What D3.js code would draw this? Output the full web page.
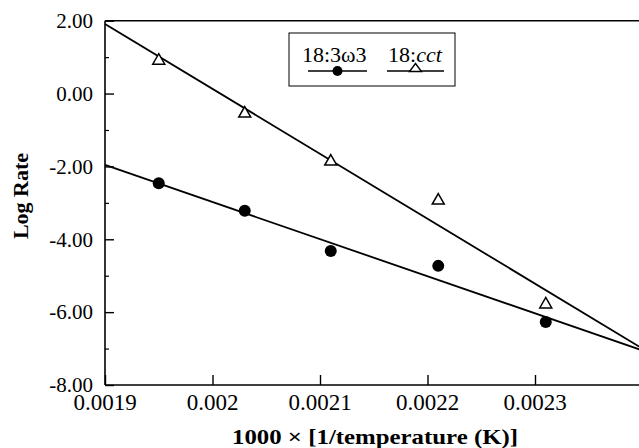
<!DOCTYPE html>
<html>
<head>
<meta charset="utf-8">
<script src="https://cdn.jsdelivr.net/npm/d3@7"></script>
<style>
  html, body { margin: 0; padding: 0; background: #fff; }
  svg { display: block; }
</style>
</head>
<body>
<div id="chart"></div>
<script>
// inverse temperature values (x) and log rates
const invTemp = [0.00195, 0.00203, 0.00211, 0.00221, 0.00231];
const rateOmega3 = [-2.46, -3.22, -4.32, -4.73, -6.27];
const rateCct = [0.95, -0.50, -1.82, -2.89, -5.74];

// fitted lines, given as [x, y] end points
const fitOmega3 = [[0.0019, -1.96], [0.0024, -7.05]];
const fitCct = [[0.0019, 1.91], [0.0024, -7.0]];

const xTicks = [0.0019, 0.002, 0.0021, 0.0022, 0.0023];
const xTickLabels = ['0.0019', '0.002', '0.0021', '0.0022', '0.0023'];
const yTicks = [2, 0, -2, -4, -6, -8];
const yTickLabels = ['2.00', '0.00', '-2.00', '-4.00', '-6.00', '-8.00'];
const yMinorTicks = [1, -1, -3, -5, -7];

const W = 639, H = 448;
const margin = { left: 105, top: 20.7, right: -3.5, bottom: 63 };
const serif = "'Liberation Serif', 'Times New Roman', serif";

const svg = d3.select('#chart').append('svg')
  .attr('width', W)
  .attr('height', H);

const x = d3.scaleLinear()
  .domain([0.0019, 0.0024])
  .range([margin.left, W - margin.right]);
const y = d3.scaleLinear()
  .domain([-8, 2])
  .range([H - margin.bottom, margin.top]);

// frame: left, bottom, top
const frame = svg.append('g')
  .attr('stroke', '#000')
  .attr('stroke-width', 1.6)
  .attr('fill', 'none');
frame.append('line')
  .attr('x1', x(0.0019)).attr('x2', x(0.0019))
  .attr('y1', y(2)).attr('y2', y(-8));
frame.append('line')
  .attr('x1', x(0.0019)).attr('x2', x(0.0024))
  .attr('y1', y(-8)).attr('y2', y(-8));
frame.append('line')
  .attr('x1', x(0.0019)).attr('x2', x(0.0024))
  .attr('y1', y(2)).attr('y2', y(2));

// y axis (ticks point inward)
svg.append('g')
  .attr('transform', `translate(${x(0.0019)},0)`)
  .call(d3.axisRight(y).tickValues(yTicks).tickSize(9).tickFormat(''))
  .call(g => g.select('.domain').remove())
  .call(g => g.selectAll('line').attr('stroke-width', 1.4));

svg.append('g')
  .attr('transform', `translate(${x(0.0019)},0)`)
  .call(d3.axisRight(y).tickValues(yMinorTicks).tickSize(4).tickFormat(''))
  .call(g => g.select('.domain').remove())
  .call(g => g.selectAll('line').attr('stroke-width', 1.2));

svg.append('g')
  .selectAll('text')
  .data(yTicks)
  .join('text')
  .attr('x', 93)
  .attr('y', d => y(d))
  .attr('dy', '0.35em')
  .attr('text-anchor', 'end')
  .attr('font-family', serif)
  .attr('font-size', 21)
  .text((d, i) => yTickLabels[i]);

// x axis (ticks point inward)
svg.append('g')
  .attr('transform', `translate(0,${y(-8)})`)
  .call(d3.axisTop(x).tickValues(xTicks).tickSize(10).tickFormat(''))
  .call(g => g.select('.domain').remove())
  .call(g => g.selectAll('line').attr('stroke-width', 1.4));

svg.append('g')
  .selectAll('text')
  .data(xTicks)
  .join('text')
  .attr('x', d => x(d))
  .attr('y', y(-8) + 17)
  .attr('dy', '0.35em')
  .attr('text-anchor', 'middle')
  .attr('font-family', serif)
  .attr('font-size', 23)
  .text((d, i) => xTickLabels[i]);

// axis titles
svg.append('text')
  .attr('x', 375)
  .attr('y', 444)
  .attr('text-anchor', 'middle')
  .attr('font-family', serif)
  .attr('font-weight', 'bold')
  .attr('font-size', 22)
  .attr('textLength', 286)
  .attr('lengthAdjust', 'spacingAndGlyphs')
  .text('1000 \u00d7 [1/temperature (K)]');

svg.append('text')
  .attr('transform', 'translate(28,196) rotate(-90)')
  .attr('text-anchor', 'middle')
  .attr('font-family', serif)
  .attr('font-weight', 'bold')
  .attr('font-size', 22)
  .text('Log Rate');

// fitted lines
const line = d3.line().x(d => x(d[0])).y(d => y(d[1]));
svg.append('g')
  .selectAll('path')
  .data([fitCct, fitOmega3])
  .join('path')
  .attr('d', line)
  .attr('fill', 'none')
  .attr('stroke', '#000')
  .attr('stroke-width', 1.8);

// markers
const triangle = (cx, cy, w, h) =>
  `M${cx},${cy - h / 2}L${cx + w / 2},${cy + h / 2}L${cx - w / 2},${cy + h / 2}Z`;

svg.append('g')
  .selectAll('circle')
  .data(invTemp)
  .join('circle')
  .attr('cx', d => x(d))
  .attr('cy', (d, i) => y(rateOmega3[i]))
  .attr('r', 6)
  .attr('fill', '#000');

svg.append('g')
  .selectAll('path')
  .data(invTemp)
  .join('path')
  .attr('d', (d, i) => triangle(x(d), y(rateCct[i]), 12, 10.5))
  .attr('fill', '#fff')
  .attr('stroke', '#000')
  .attr('stroke-width', 1.5);

// legend
const legend = svg.append('g');
legend.append('rect')
  .attr('x', 289).attr('y', 33)
  .attr('width', 166).attr('height', 53)
  .attr('fill', '#fff')
  .attr('stroke', '#000')
  .attr('stroke-width', 1);

legend.append('text')
  .attr('x', 302).attr('y', 62)
  .attr('font-family', serif)
  .attr('font-size', 22)
  .text('18:3\u03c93');

const cctLabel = legend.append('text')
  .attr('x', 388).attr('y', 62)
  .attr('font-family', serif)
  .attr('font-size', 22);
cctLabel.append('tspan').text('18:');
cctLabel.append('tspan').attr('font-style', 'italic').text('cct');

legend.append('line')
  .attr('x1', 308).attr('x2', 367).attr('y1', 71).attr('y2', 71)
  .attr('stroke', '#000').attr('stroke-width', 1.4);
legend.append('circle')
  .attr('cx', 337.5).attr('cy', 71).attr('r', 5)
  .attr('fill', '#000');

legend.append('line')
  .attr('x1', 387).attr('x2', 444).attr('y1', 71).attr('y2', 71)
  .attr('stroke', '#000').attr('stroke-width', 1.4);
legend.append('path')
  .attr('d', triangle(415.5, 67.5, 12, 8))
  .attr('fill', '#fff')
  .attr('stroke', '#000')
  .attr('stroke-width', 1.4);
</script>
</body>
</html>
